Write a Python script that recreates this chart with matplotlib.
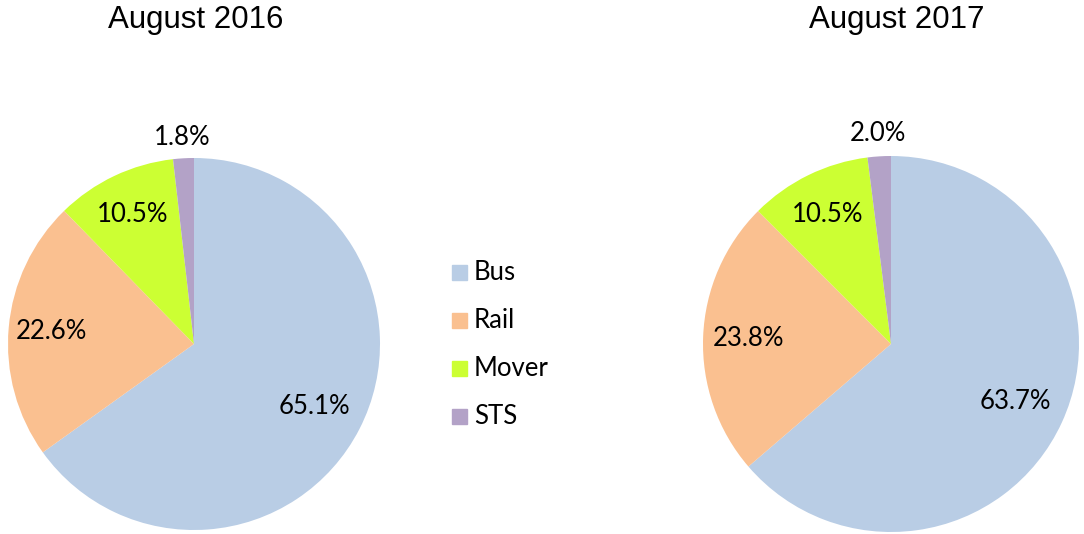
import matplotlib
matplotlib.use("Agg")
import matplotlib.pyplot as plt
import numpy as np

categories = ["Bus", "Rail", "Mover", "STS"]
values_2016 = [65.1, 22.6, 10.5, 1.8]
values_2017 = [63.7, 23.8, 10.5, 2.0]
titles = ["August 2016", "August 2017"]
colors = ["#B9CDE5", "#FAC090", "#CCFF33", "#B3A2C7"]

W, H = 1084, 534
fig = plt.figure(figsize=(W / 100, H / 100), dpi=100)
label_font = "Lato"
label_size = 18.5

def add_pie(cx, cy, r, values, title, title_x, label_r):
    ax = fig.add_axes([(cx - r) / W, (H - cy - r) / H, 2 * r / W, 2 * r / H])
    ax.pie(values, colors=colors, startangle=90, counterclock=False,
           wedgeprops=dict(linewidth=0))
    ax.set_xlim(-1, 1)
    ax.set_ylim(-1, 1)
    ax.set_aspect("equal")
    ax.axis("off")
    total = sum(values)
    cum = 0
    for v, lr in zip(values, label_r):
        mid = 90 - (cum + v / 2) / total * 360
        cum += v
        a = np.deg2rad(mid)
        ax.text(lr * np.cos(a), lr * np.sin(a), f"{v:.1f}%", ha="center", va="center",
                fontsize=label_size, family=label_font, color="black", clip_on=False)
    fig.text(title_x / W, 1 - 20 / H, title, ha="center", va="center",
             fontsize=22.5, family="Liberation Sans")

add_pie(194, 344, 186, values_2016, titles[0], 196, [0.73, 0.77, 0.77, 1.11])
add_pie(891, 344, 188, values_2017, titles[1], 897, [0.73, 0.76, 0.77, 1.12])

# legend
ys = [273, 321, 369, 417]
for c, name, y in zip(colors, categories, ys):
    fig.patches.append(plt.Rectangle((452 / W, (H - y - 7) / H), 15 / W, 15 / H,
                                     transform=fig.transFigure, color=c))
    fig.text(474 / W, 1 - y / H, name, ha="left", va="center", fontsize=label_size,
             family=label_font)

fig.savefig("out.png", dpi=100)
